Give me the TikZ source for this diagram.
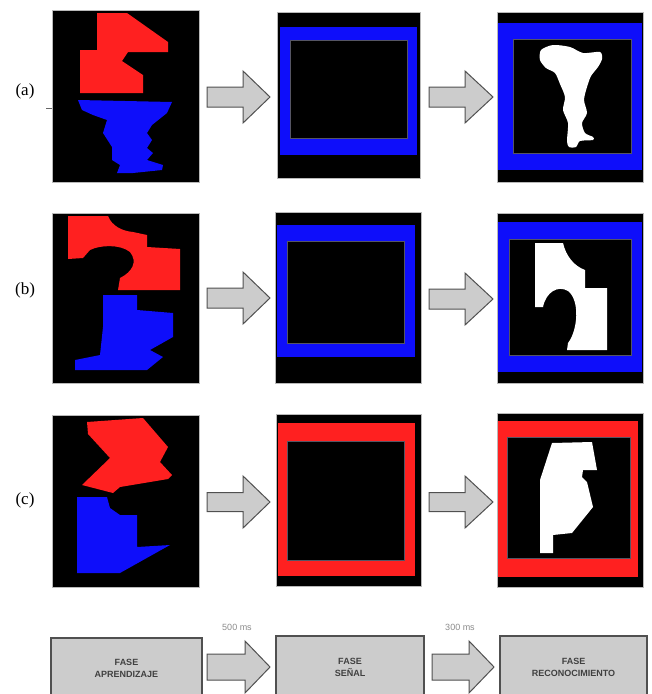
\documentclass[tikz,border=0pt]{standalone}
\usepackage{fontspec}
\setmainfont{Liberation Serif}
\newfontfamily\labsans{Liberation Sans}
\definecolor{fr}{RGB}{255,32,32}
\definecolor{fb}{RGB}{14,14,250}
\definecolor{arrfill}{RGB}{204,204,204}
\definecolor{arrline}{RGB}{80,80,80}
\definecolor{edgegray}{RGB}{85,85,100}
\newcommand{\barrow}[6]{%
  \draw[arrowstyle] (#1,#4-#5) -- (#2,#4-#5) -- (#2,#4-#6) -- (#3,#4)
    -- (#2,#4+#6) -- (#2,#4+#5) -- (#1,#4+#5) -- cycle;}
\begin{document}
\begin{tikzpicture}[x=1pt,y=-1pt,
  panel/.style={draw=gray!55, line width=0.7pt, fill=black, inner sep=0pt, outer sep=0pt},
  innerline/.style={draw=edgegray, line width=0.6pt},
  arrowstyle/.style={fill=arrfill, draw=arrline, line width=1pt, line join=miter},
  rowlabel/.style={font=\fontsize{17}{19}\selectfont, inner sep=0pt},
  phase/.style={draw=arrline, line width=1.3pt, fill=arrfill, inner sep=0pt,
     align=center, text=black!75, font=\labsans\bfseries\fontsize{9}{12}\selectfont},
  timelabel/.style={font=\labsans\fontsize{9}{10}\selectfont, text=gray!90, inner sep=0pt}
]
\clip (0,0) rectangle (652,694);
\fill[white] (0,0) rectangle (652,694);

% ---------- row labels ----------
\node[rowlabel] (la) at (25,91) {(a)};
\node[rowlabel] (lb) at (25,290) {(b)};
\node[rowlabel] (lc) at (25,500) {(c)};
\coordinate (tickA) at (46,108);
\coordinate (tickB) at (53,108);
\draw[gray!80!black, line width=1pt] (tickA) -- (tickB);

% ---------- panels ----------
\node[panel, minimum width=147pt, minimum height=172pt] (pa1) at (125.5,96) {};
\node[panel, minimum width=143pt, minimum height=166pt] (pa2) at (348.5,95) {};
\node[panel, minimum width=146pt, minimum height=170pt] (pa3) at (570,97) {};
\node[panel, minimum width=147pt, minimum height=170pt] (pb1) at (125.5,298) {};
\node[panel, minimum width=146pt, minimum height=171pt] (pb2) at (348,297.5) {};
\node[panel, minimum width=146pt, minimum height=170pt] (pb3) at (570,298) {};
\node[panel, minimum width=147pt, minimum height=172pt] (pc1) at (125.5,501) {};
\node[panel, minimum width=145pt, minimum height=172pt] (pc2) at (348.5,500) {};
\node[panel, minimum width=146pt, minimum height=174pt] (pc3) at (570,500) {};

% ---------- row (a) ----------
\fill[fr] (97,13) -- (127,13) -- (168,42) -- (168,52) -- (128,52) -- (122,61)
  -- (143,75) -- (143,93) -- (80,93) -- (80,50) -- (97,50) -- cycle;
\fill[fb] (78,100) -- (172,102) -- (167,113) -- (152,125) -- (147,133) -- (152,140)
  -- (147,148) -- (153,153) -- (147,160) -- (163,165) -- (162,170) -- (133,173)
  -- (117,173) -- (120,165) -- (112,160) -- (112,147) -- (103,133) -- (107,120)
  -- (93,115) -- (82,110) -- cycle;
\fill[fb] (280,27) rectangle (417,155);
\fill[black] (290,40) rectangle (407,138);
\draw[innerline] (290,40) rectangle (407,138);
\fill[fb] (498,23) rectangle (642,170);
\fill[black] (513,39) rectangle (631,153);
\draw[innerline] (513,39) rectangle (631,153);
\fill[white] plot[smooth cycle, tension=0.45] coordinates {
  (541,50) (553,45) (570,47) (583,53) (600,52) (602,59) (598,67) (591,76)
  (587,87) (584,100) (587,113) (582,123) (585,133) (593,137) (593,140)
  (580,141) (576,147) (569,147) (567,141) (568,123) (563,110) (565,97)
  (560,84) (555,73) (546,68) (540,60)};

% ---------- row (b) ----------
\fill[fr] (68,216) -- (108,216) .. controls (112,226) and (122,231) .. (133,232)
  -- (147,235) -- (147,247) -- (180,249) -- (180,290) -- (118,290) -- (120,278)
  .. controls (132,272) and (138,262) .. (130,252)
  .. controls (120,244) and (100,245) .. (90,250)
  -- (83,258) -- (68,259) -- cycle;
\fill[fb] (103,295) -- (137,295) -- (137,310) -- (173,313) -- (173,337) -- (150,350)
  -- (163,357) -- (147,370) -- (75,370) -- (75,360) -- (100,355) -- (103,327) -- cycle;
\fill[fb] (277,225) rectangle (415,357);
\fill[black] (287,241) rectangle (404,343);
\draw[innerline] (287,241) rectangle (404,343);
\fill[fb] (498,222) rectangle (642,372);
\fill[black] (509,239) rectangle (631,355);
\draw[innerline] (509,239) rectangle (631,355);
\fill[white] (535,243) -- (563,243) .. controls (566,256) and (574,266) .. (585,270)
  -- (585,288) -- (607,288) -- (607,350) -- (567,350) -- (568,343)
  .. controls (578,330) and (580,300) .. (568,291)
  .. controls (558,285) and (546,292) .. (543,307)
  -- (535,307) -- cycle;

% ---------- row (c) ----------
\fill[fr] (87,422) -- (143,418) -- (168,447) -- (160,462) -- (172,475) -- (168,479)
  -- (120,487) -- (113,493) -- (82,485) -- (110,458) -- (88,434) -- cycle;
\fill[fb] (77,497) -- (107,497) -- (110,508) -- (120,515) -- (137,515) -- (137,547)
  -- (170,545) -- (120,573) -- (77,573) -- cycle;
\fill[fr] (278,423) rectangle (415,576);
\fill[black] (287,441) rectangle (404,560);
\draw[innerline] (287,441) rectangle (404,560);
\fill[fr] (498,421) rectangle (638,577);
\fill[black] (507,437) rectangle (630,558);
\draw[innerline] (507,437) rectangle (630,558);
\fill[white] (552,443) -- (592,442) -- (597,470) -- (583,470) -- (582,477) -- (587,482)
  -- (593,507) -- (572,533) -- (553,535) -- (553,553) -- (540,553) -- (540,480) -- cycle;

% ---------- block arrows ----------
\barrow{207}{243}{270}{97}{10}{26}
\barrow{429}{465}{493}{97}{10}{26}
\barrow{207}{243}{270}{298}{10}{26}
\barrow{429}{465}{493}{299}{10}{26}
\barrow{207}{243}{270}{502}{9.5}{26}
\barrow{429}{465}{493}{502}{9.5}{26}

% ---------- phase row ----------
\node[phase, minimum width=151pt, minimum height=60pt] (f1) at (126.5,668) {FASE\\APRENDIZAJE};
\node[phase, minimum width=148pt, minimum height=62pt] (f2) at (350,667) {FASE\\SEÑAL};
\node[phase, minimum width=147pt, minimum height=62pt] (f3) at (573.5,667) {FASE\\RECONOCIMIENTO};
\barrow{207}{245}{270}{667}{13}{26}
\barrow{432}{469}{494}{667}{13}{26}
\node[timelabel] (t1) at (237,627) {500 ms};
\node[timelabel] (t2) at (460,627) {300 ms};
\end{tikzpicture}
\end{document}
